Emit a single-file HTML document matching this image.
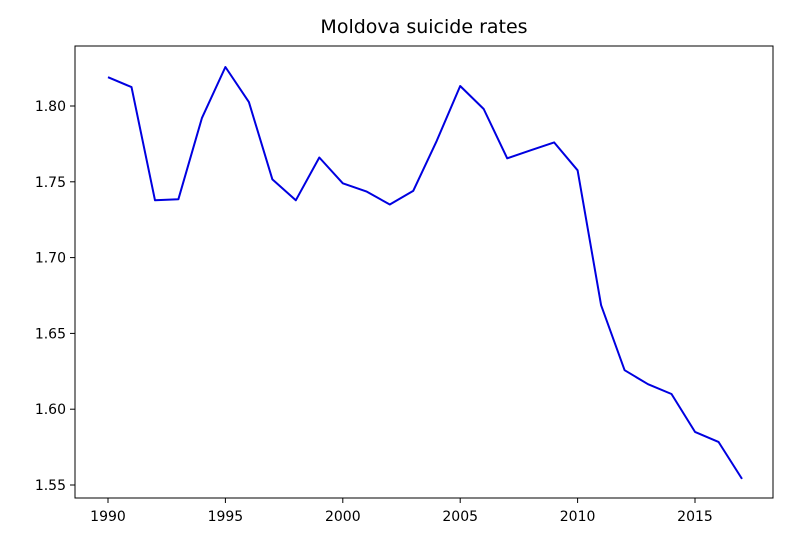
<!DOCTYPE html>
<html><head><meta charset="utf-8">
<style>
html,body{margin:0;padding:0;background:#fff;}
svg{display:block;font-family:"DejaVu Sans","Liberation Sans",sans-serif;}
</style></head>
<body>
<svg id="chart" width="788" height="549" viewBox="0 0 788 549"></svg>
<script>
const years = [1990,1991,1992,1993,1994,1995,1996,1997,1998,1999,2000,2001,2002,2003,2004,2005,2006,2007,2008,2009,2010,2011,2012,2013,2014,2015,2016,2017];
const rates = [1.819,1.8125,1.7378,1.7385,1.792,1.8257,1.8026,1.7516,1.7378,1.766,1.749,1.7437,1.735,1.744,1.777,1.8132,1.798,1.7655,1.7708,1.776,1.7576,1.6686,1.6257,1.6165,1.610,1.585,1.5784,1.554];
const xTicks = [1990,1995,2000,2005,2010,2015];
const yTicks = [1.55,1.60,1.65,1.70,1.75,1.80];
const yTickLabels = ["1.55","1.60","1.65","1.70","1.75","1.80"];

const NS = "http://www.w3.org/2000/svg";
const svg = document.getElementById('chart');
const L=75,R=773,T=46,B=498;
function xs(v){return 108 + (v-1990)*(695-108)/25;}
function ys(v){return 485 - (v-1.55)*(485-106)/0.25;}
function mk(tag,attrs,parent){const e=document.createElementNS(NS,tag);for(const k in attrs)e.setAttribute(k,attrs[k]);(parent||svg).appendChild(e);return e;}

const title = mk('text',{x:(L+R)/2,y:33,'text-anchor':'middle','font-size':'19',fill:'#000'});


title.textContent='Moldova suicide rates';

const xg = mk('g',{});


xTicks.forEach(t=>{
  const x=xs(t);
  mk('line',{x1:x,y1:B,x2:x,y2:B+5,stroke:'#000','stroke-width':1},xg);
  const tx=mk('text',{x:x,y:B+23,'text-anchor':'middle','font-size':'14',fill:'#000'},xg);
  
  
  tx.textContent=t;
});
const yg = mk('g',{});


yTicks.forEach((t,i)=>{
  const y=ys(t);
  mk('line',{x1:L-5,y1:y,x2:L,y2:y,stroke:'#000','stroke-width':1},yg);
  const tx=mk('text',{x:L-9,y:y+5,'text-anchor':'end','font-size':'14',fill:'#000'},yg);
  
  
  tx.textContent=yTickLabels[i];
});

const pts = years.map((y,i)=>xs(y).toFixed(1)+','+ys(rates[i]).toFixed(1)).join(' ');
const line = mk('polyline',{points:pts,fill:'none',stroke:'#0000e0','stroke-width':2,'stroke-linejoin':'round'});



const frame = mk('rect',{x:L,y:T,width:R-L,height:B-T,fill:'none',stroke:'#000','stroke-width':1});


</script>
</body></html>
